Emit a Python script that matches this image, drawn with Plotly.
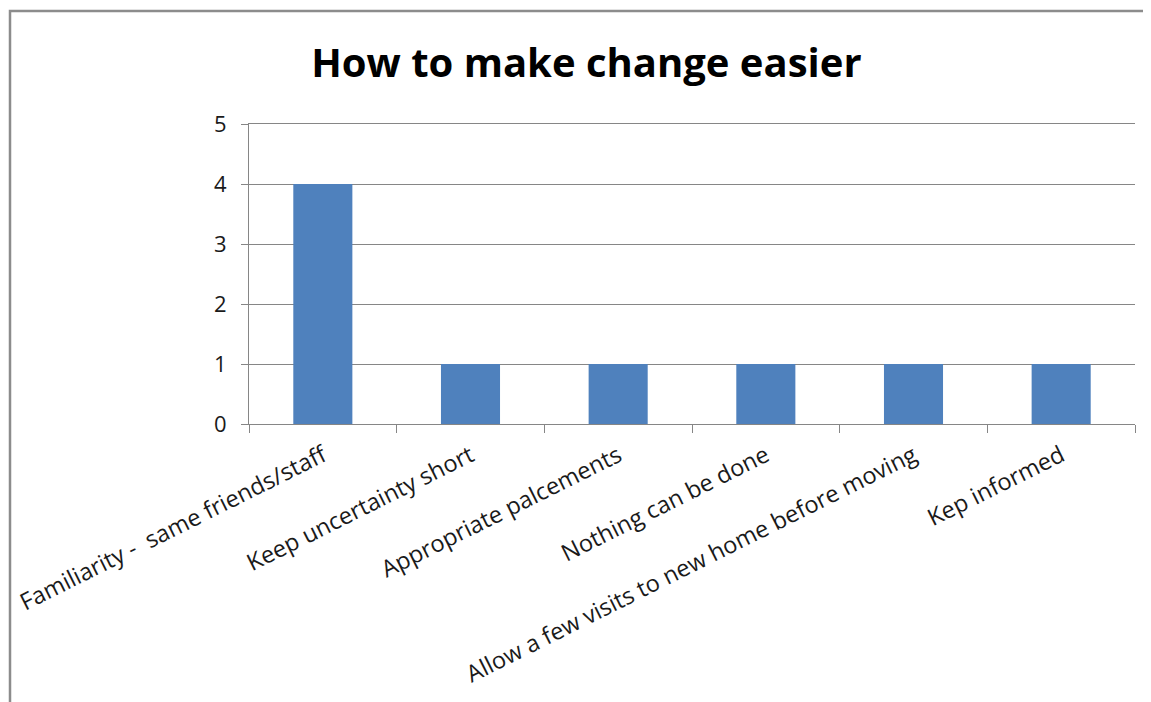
import plotly.graph_objects as go

# chart data
categories = [
    "Familiarity - \u00a0same friends/staff",
    "Keep uncertainty short",
    "Appropriate palcements",
    "Nothing can be done",
    "Allow a few visits to new home before moving",
    "Kep informed",
]
counts = [4, 1, 1, 1, 1, 1]
y_ticks = [0, 1, 2, 3, 4, 5]

# page body has an 8px margin, so the figure is 8px smaller each way
W, H = 1143, 694

fig = go.Figure()
fig.add_trace(go.Bar(
    x=categories,
    y=counts,
    marker=dict(color="#4f81bd", line=dict(width=0)),
    showlegend=False,
))

fig.update_layout(
    width=W, height=H,
    margin=dict(l=241, r=16, t=116, b=278),
    paper_bgcolor="white", plot_bgcolor="white",
    bargap=0.6,
    font=dict(family="Open Sans", color="#1a1a1a"),
    title=dict(text="<b>How to make change easier</b>", x=0.506, xanchor="center",
               y=0.921, yanchor="middle",
               font=dict(family="Open Sans", size=40, color="black")),
)
fig.update_yaxes(
    range=[0, 5], tickvals=y_ticks, showgrid=True, gridcolor="#868686", gridwidth=1,
    showline=True, linecolor="#868686", linewidth=1, ticks="outside", ticklen=7,
    tickcolor="#868686", tickfont=dict(size=22), ticklabelstandoff=10,
    zeroline=False, automargin=False,
)
fig.update_xaxes(
    showline=True, mirror=True, linecolor="#868686", linewidth=1, tickangle=-26.5,
    ticks="outside", ticklen=8, tickcolor="#868686", tickson="boundaries",
    tickfont=dict(size=23.5), ticklabelstandoff=8, automargin=False,
)

# outer chart frame (cut off at right and bottom in the screenshot)
fig.add_shape(type="rect", xref="paper", yref="paper",
              x0=(2 - 241) / 886, x1=1.2, y0=-1.2, y1=(416 - 3) / 300,
              line=dict(color="#8c8c8c", width=2.5), layer="below")

fig.write_html("out.html")
